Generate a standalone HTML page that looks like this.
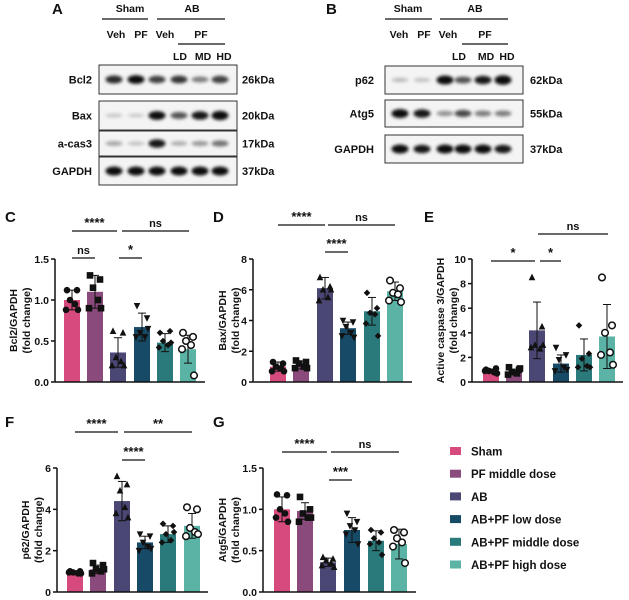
<!DOCTYPE html>
<html><head><meta charset="utf-8"><style>
html,body{margin:0;padding:0;background:#fff;}
svg{display:block;font-family:"Liberation Sans",Arial,sans-serif;font-weight:bold;}
</style></head><body>
<svg id="s" width="629" height="600" viewBox="0 0 629 600" xmlns="http://www.w3.org/2000/svg">
<defs><filter id="bl" x="-50%" y="-100%" width="200%" height="300%"><feGaussianBlur stdDeviation="1.6"/></filter></defs>
</svg>
<script>
const S=document.getElementById('s'),NS='http://www.w3.org/2000/svg';
function el(t,a,txt){const e=document.createElementNS(NS,t);for(const k in a)e.setAttribute(k,a[k]);if(txt!==undefined)e.textContent=txt;S.appendChild(e);return e;}
function tx(x,y,s,sz,anc,extra){const a={x:x,y:y,'font-size':sz||11,'text-anchor':anc||'middle',fill:'#111'};Object.assign(a,extra||{});return el('text',a,s);}
function ln(x1,y1,x2,y2,w){el('line',{x1,y1,x2,y2,stroke:'#111','stroke-width':w||1.3});}
function header(o){
 tx(o.L,14,o.letter,15,'start');
 tx(o.sh,12,'Sham',10.5);ln(o.shl[0],19,o.shl[1],19);
 tx(o.ab,12,'AB',10.5);ln(o.abl[0],19,o.abl[1],19);
 tx(o.v1,38,'Veh',10.5);tx(o.p1,38,'PF',10.5);tx(o.v2,38,'Veh',10.5);tx(o.p2,38,'PF',10.5);ln(o.pfl[0],44,o.pfl[1],44);
 tx(o.ld,60,'LD',10.5);tx(o.md,60,'MD',10.5);tx(o.hd,60,'HD',10.5);
}
header({L:52,letter:'A',sh:130,shl:[102,148],ab:192,abl:[157,225],v1:116,p1:141,v2:165,p2:201,pfl:[178,225],ld:180,md:203,hd:224});
header({L:326,letter:'B',sh:408,shl:[385,432],ab:475,abl:[440,508],v1:399,p1:424,v2:448,p2:485,pfl:[462,508],ld:459,md:486,hd:507});
function blot(x,w,y,h,lanes,ints,label,kd,lx,kx){
 el('rect',{x:x,y:y,width:w,height:h,fill:'#f4f4f4',stroke:'#333','stroke-width':1});
 lanes.forEach((c,i)=>{const v=ints[i];el('ellipse',{cx:c,cy:y+h/2,rx:8.5,ry:1.8+v*2.6,fill:'#000','fill-opacity':Math.min(0.95,0.1+v*0.85),filter:'url(#bl)'});});
 tx(lx,y+h/2+4,label,11,'end');tx(kx,y+h/2+4,kd,11,'start');
}
const la=[114,136,157,179,200,220];
blot(99,138,65,29,la,[.85,1,.75,.8,.45,.75],'Bcl2','26kDa',92,242);
blot(99,138,101,29,la,[.1,.08,1,.65,.95,1.1],'Bax','20kDa',92,242);
blot(99,138,131,25,la,[.25,.12,.95,.22,.32,.5],'a-cas3','17kDa',92,242);
blot(99,138,157,28,la,[1.05,1.05,1.05,1.05,1.05,1.05],'GAPDH','37kDa',92,242);
const lb=[400,422,445,463,483,503];
blot(385,138,66,28,lb,[.15,.12,1.05,.65,.95,1.15],'p62','62kDa',374,530);
blot(385,138,100,27,lb,[1.05,.95,.35,.7,.45,.45],'Atg5','55kDa',374,530);
blot(385,138,135,28,lb,[1.05,.95,1.05,1.05,1.05,.95],'GAPDH','37kDa',374,530);
const cols=['#d64a7e','#8b4a7c','#4b4775','#174a66','#2a7a7c','#5ab3a5'];
function marker(k,x,y){const r=3.3;
 if(k==0)el('circle',{cx:x,cy:y,r:r,fill:'#111'});
 else if(k==1)el('rect',{x:x-r,y:y-r,width:2*r,height:2*r,fill:'#111'});
 else if(k==2)el('polygon',{points:`${x},${y-r-0.5} ${x+r},${y+r-0.5} ${x-r},${y+r-0.5}`,fill:'#111'});
 else if(k==3)el('polygon',{points:`${x},${y+r+0.5} ${x+r},${y-r+0.5} ${x-r},${y-r+0.5}`,fill:'#111'});
 else if(k==4)el('polygon',{points:`${x},${y-r} ${x+r},${y} ${x},${y+r} ${x-r},${y}`,fill:'#111'});
 else el('circle',{cx:x,cy:y,r:r,fill:'#fff',stroke:'#111','stroke-width':1.5});
}
function chart(c){
 const sc=(c.y0-c.y1)/c.max, Y=v=>c.y0-v*sc;
 tx(c.lx,c.ly,c.letter,15,'start');
 c.bars.forEach((b,i)=>{const x=c.xs[i];
  el('rect',{x:x-8,y:Y(b[0]),width:16,height:c.y0-Y(b[0]),fill:cols[i]});
  ln(x,Y(b[0]-b[1]),x,Y(b[0]+b[1]),1);ln(x-4,Y(b[0]+b[1]),x+4,Y(b[0]+b[1]),1);ln(x-4,Y(b[0]-b[1]),x+4,Y(b[0]-b[1]),1);
  b[2].forEach((v,j)=>{const off=[-5,5,-2,3,-6,6][j];marker(i,x+off,Y(v));});
 });
 ln(c.ax,c.y1,c.ax,c.y0,1.5);ln(c.ax,c.y0,c.xe,c.y0,1.5);
 c.ticks.forEach(t=>{ln(c.ax-4,Y(t[0]),c.ax,Y(t[0]),1.5);tx(c.ax-6,Y(t[0])+4,t[1],10.5,'end');});
 c.lab.forEach((s,i)=>{const x=c.yl[i],y=(c.y0+c.y1)/2;tx(x+2,y,s,10.5,'middle',{transform:`rotate(-90 ${x+2} ${y})`});});
 c.sig.forEach(g=>{ln(g[0],g[2],g[1],g[2],1.3);tx((g[0]+g[1])/2,g[2]-4,g[3],g[3]=='ns'?11:13);});
}
chart({letter:'C',lx:5,ly:222,ax:55,xe:205,y0:382,y1:259,max:1.5,xs:[72,95,118,142,165,188],
 ticks:[[0,'0.0'],[.5,'0.5'],[1,'1.0'],[1.5,'1.5']],lab:['Bcl2/GAPDH','(fold change)'],yl:[15,28],
 bars:[[1,.12,[1.12,1.12,1,.95,.88,.88]],[1.1,.2,[1.3,1.25,1.15,1,.9,.9]],[.36,.18,[.62,.6,.3,.25,.2,.2]],[.67,.17,[.93,.78,.6,.55,.55,.65]],[.48,.11,[.6,.62,.5,.45,.42,.48]],[.4,.17,[.6,.55,.5,.45,.4,.08]]],
 sig:[[72,117,231,'****'],[122,189,231,'ns'],[72,95,258,'ns'],[119,142,258,'*']]});
chart({letter:'D',lx:213,ly:222,ax:253,xe:412,y0:382,y1:259,max:8,xs:[278,301,325,348,372,395],
 ticks:[[0,'0'],[2,'2'],[4,'4'],[6,'6'],[8,'8']],lab:['Bax/GAPDH','(fold change)'],yl:[224,237],
 bars:[[1,.3,[1.3,1.2,1,.9,.7,.7]],[1.1,.25,[1.4,1.3,1.2,1,.9,.9]],[6.1,.7,[6.8,6.2,6,5.5,5.3,6]],[3.5,.4,[4,3.9,3.6,3.2,3,2.9]],[4.6,.9,[5.8,4.8,4.5,4.4,3.8,3]],[5.9,.6,[6.6,6.1,5.8,5.7,5.3,5.2]]],
 sig:[[278,325,225,'****'],[328,395,225,'ns'],[325,348,252,'****']]});
chart({letter:'E',lx:424,ly:222,ax:472,xe:623,y0:382,y1:259,max:10,xs:[491,514,537,561,584,607],
 ticks:[[0,'0'],[2,'2'],[4,'4'],[6,'6'],[8,'8'],[10,'10']],lab:['Active caspase 3/GAPDH','(fold change)'],yl:[442,455],
 bars:[[.9,.15,[1,1.1,.9,.8,.9,.7]],[.85,.2,[1.2,1,.8,.7,.6,1.1]],[4.2,2.3,[8.5,4.5,3,2.7,2.8,3]],[1.5,.7,[2.8,2.2,1.8,1.2,.9,1]],[2.2,1.3,[4.6,2.3,1.9,1.3,1.2,1.2]],[3.7,2.6,[8.5,4.6,4,2.4,2.2,1.4]]],
 sig:[[538,608,234,'ns'],[491,535,261,'*'],[540,561,261,'*']]});
chart({letter:'F',lx:5,ly:427,ax:57,xe:208,y0:592,y1:468,max:6,xs:[75,98,122,145,168,192],
 ticks:[[0,'0'],[2,'2'],[4,'4'],[6,'6']],lab:['p62/GAPDH','(fold change)'],yl:[27,40],
 bars:[[.95,.08,[1,1,.95,.9,.95,.9]],[1.1,.2,[1.4,1.3,1.1,1,.9,1.1]],[4.4,.95,[5.6,5.2,4.9,4.1,3.8,3.6]],[2.4,.3,[2.8,2.7,2.4,2.2,2,2.1]],[2.8,.4,[3.3,3.2,2.8,2.5,2.4,2.9]],[3.2,.6,[4.1,4,3.1,2.9,2.7,2.8]]],
 sig:[[75,118,432,'****'],[124,192,432,'**'],[122,145,460,'****']]});
chart({letter:'G',lx:213,ly:427,ax:263,xe:416,y0:592,y1:468,max:1.5,xs:[282,305,328,352,376,399],
 ticks:[[0,'0.0'],[.5,'0.5'],[1,'1.0'],[1.5,'1.5']],lab:['Atg5/GAPDH','(fold change)'],yl:[224,237],
 bars:[[1,.15,[1.18,1.17,1,.95,.9,.85]],[.98,.1,[1.15,1,.95,.9,.85,.9]],[.36,.05,[.42,.4,.38,.35,.32,.3]],[.75,.15,[.95,.85,.8,.75,.7,.58]],[.62,.12,[.75,.72,.65,.6,.58,.45]],[.58,.18,[.75,.72,.65,.6,.55,.35]]],
 sig:[[282,327,452,'****'],[331,399,452,'ns'],[329,352,480,'***']]});
['Sham','PF middle dose','AB','AB+PF low dose','AB+PF middle dose','AB+PF high dose'].forEach((s,i)=>{
 const y=451+i*22.7;el('rect',{x:450,y:y-4,width:11,height:8,fill:cols[i]});tx(471,y+4.5,s,11.5,'start');});
</script>
</body></html>
